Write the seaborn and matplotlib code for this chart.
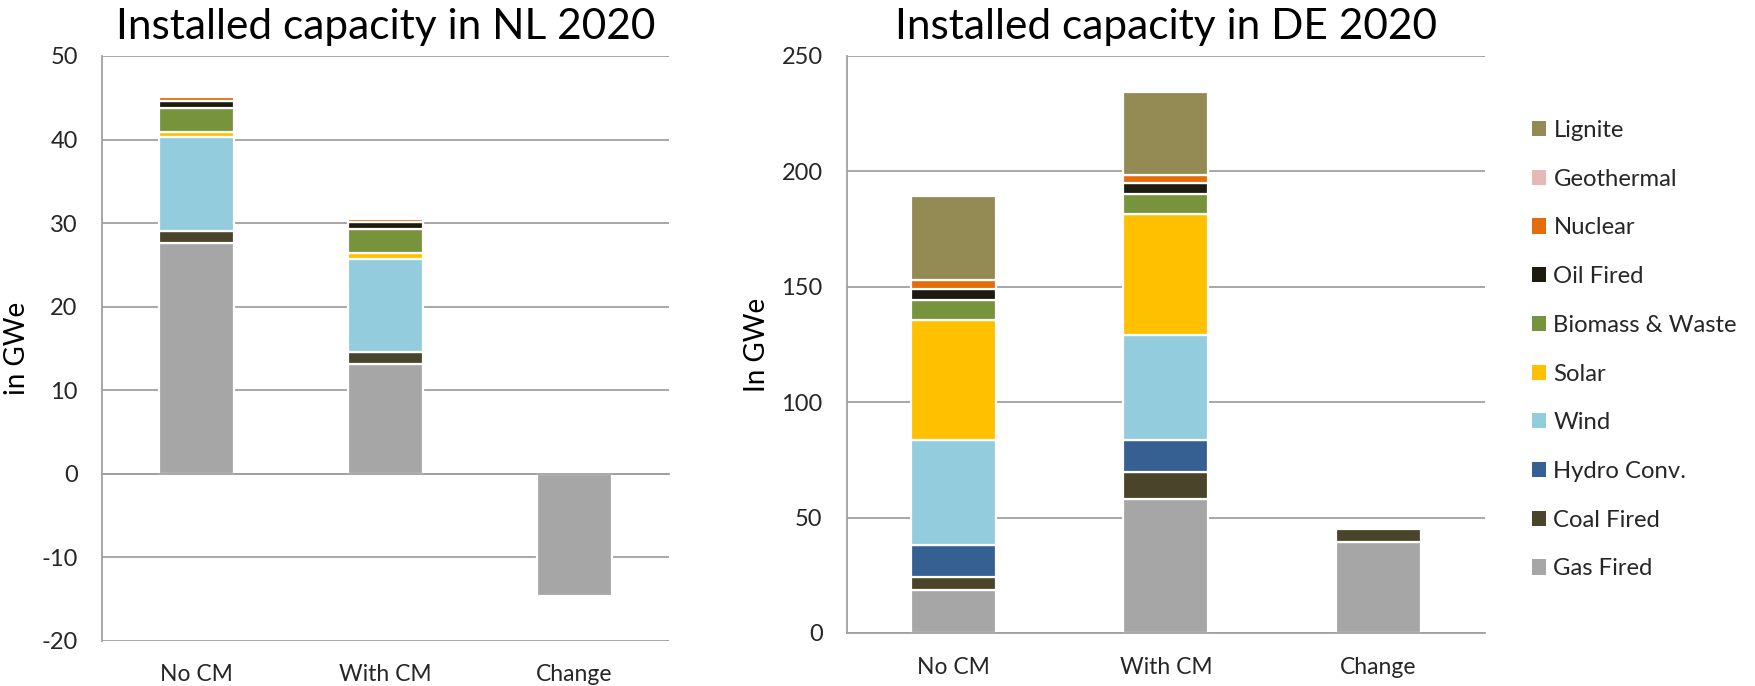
import numpy as np
import pandas as pd
import matplotlib
matplotlib.use("Agg")
import matplotlib.pyplot as plt
from matplotlib.patches import Patch
import seaborn as sns

# Scenarios on the x axis
categories = ["No CM", "With CM", "Change"]

# Technologies in stacking order (bottom to top)
technologies = ["Gas Fired", "Coal Fired", "Hydro Conv.", "Wind", "Solar",
                "Biomass & Waste", "Oil Fired", "Nuclear", "Geothermal", "Lignite"]
tech_colors = ["#A6A6A6", "#4A452A", "#376092", "#93CDDD", "#FFC000",
               "#77933C", "#1D1B10", "#E46C0A", "#E6B9B8", "#948A54"]

# Netherlands, installed capacity in GWe
nl_gas = [27.6, 13.2, -14.6]
nl_coal = [1.5, 1.4, 0.0]
nl_hydro = [0.0, 0.0, 0.0]
nl_wind = [11.2, 11.1, 0.0]
nl_solar = [0.6, 0.7, 0.0]
nl_biomass = [2.9, 2.9, 0.0]
nl_oil = [0.8, 0.8, 0.0]
nl_nuclear = [0.5, 0.4, 0.0]
nl_geothermal = [0.0, 0.0, 0.0]
nl_lignite = [0.0, 0.0, 0.0]

# Germany, installed capacity in GWe
de_gas = [18.6, 58.2, 39.4]
de_coal = [5.5, 11.5, 5.7]
de_hydro = [14.0, 13.9, 0.0]
de_wind = [45.5, 45.7, 0.0]
de_solar = [52.1, 52.1, 0.0]
de_biomass = [8.7, 8.9, 0.0]
de_oil = [4.8, 4.5, 0.0]
de_nuclear = [3.8, 3.6, 0.0]
de_geothermal = [0.0, 0.0, 0.0]
de_lignite = [36.2, 36.2, 0.0]

nl_values = dict(zip(technologies, [nl_gas, nl_coal, nl_hydro, nl_wind, nl_solar,
                                    nl_biomass, nl_oil, nl_nuclear, nl_geothermal, nl_lignite]))
de_values = dict(zip(technologies, [de_gas, de_coal, de_hydro, de_wind, de_solar,
                                    de_biomass, de_oil, de_nuclear, de_geothermal, de_lignite]))

sns.set_style("white")
plt.rcParams["font.family"] = ["Lato", "DejaVu Sans"]
plt.rcParams["axes.unicode_minus"] = False

GRID = "#A0A0A0"
TEXT = "#262626"


def draw_stack(ax, values):
    """Stacked bars: positive parts grow upward, negative parts downward."""
    pos_base = np.zeros(len(categories))
    neg_base = np.zeros(len(categories))
    cats = np.array(categories)
    for tech, color in zip(technologies, tech_colors):
        vals = np.asarray(values[tech], dtype=float)
        keep = vals != 0
        if keep.any():
            base = np.where(vals > 0, pos_base, neg_base)
            df = pd.DataFrame({"scenario": cats[keep], "GWe": vals[keep]})
            sns.barplot(data=df, x="scenario", y="GWe", order=categories,
                        bottom=base[keep], color=color, saturation=1,
                        width=0.4, edgecolor="white", linewidth=1.6,
                        errorbar=None, ax=ax)
        pos_base += np.where(vals > 0, vals, 0)
        neg_base += np.where(vals < 0, vals, 0)


def style_axes(ax, title, ylabel, ylim, yticks, label_offset):
    ax.set_ylim(*ylim)
    ax.set_yticks(yticks)
    ax.set_xlim(-0.5, len(categories) - 0.5)
    ax.set_axisbelow(True)
    ax.yaxis.grid(True, color=GRID, linewidth=1.3)
    ax.xaxis.grid(False)
    for side in ("top", "right"):
        ax.spines[side].set_visible(False)
    ax.spines["left"].set_color(GRID)
    ax.spines["left"].set_linewidth(1.3)
    ax.spines["bottom"].set_color(GRID)
    ax.spines["bottom"].set_linewidth(1.3)
    ax.spines["bottom"].set_position(("data", 0))

    ax.tick_params(axis="y", length=6.5, width=1.3, color=GRID, pad=11,
                   labelsize=17, labelcolor=TEXT)
    ax.set_xticks(range(len(categories)))
    ax.set_xticks(np.arange(-0.5, len(categories)), minor=True)
    ax.tick_params(axis="x", which="major", length=0, labelbottom=False)
    ax.tick_params(axis="x", which="minor", length=6.5, width=1.3, color=GRID,
                   direction="out")
    for i, cat in enumerate(categories):
        ax.annotate(cat, xy=(i, 0), xycoords=("data", "axes fraction"),
                    xytext=(0, label_offset), textcoords="offset points",
                    ha="center", va="center", fontsize=16.5, color=TEXT)

    ax.set_xlabel("")
    ax.set_ylabel(ylabel, fontsize=20, color="black", labelpad=8)
    ax.set_title(title, fontsize=30.5, color="black", pad=12)


fig = plt.figure(figsize=(17.56, 6.86), dpi=100)
ax_nl = fig.add_axes([0.0581, 0.0656, 0.3229, 0.8528])
ax_de = fig.add_axes([0.4823, 0.0773, 0.3633, 0.8411])

draw_stack(ax_nl, nl_values)
draw_stack(ax_de, de_values)

style_axes(ax_nl, "Installed capacity in NL 2020", "in GWe",
           (-20, 50), range(-20, 51, 10), -24)
style_axes(ax_de, "Installed capacity in DE 2020", "In GWe",
           (0, 250), range(0, 251, 50), -25)

handles = [Patch(facecolor=c, edgecolor="none", label=t)
           for t, c in zip(technologies, tech_colors)][::-1]
fig.legend(handles=handles, loc="upper left", bbox_to_anchor=(0.8724, 0.825),
           frameon=False, fontsize=17.2, handlelength=0.6, handleheight=0.6,
           handletextpad=0.3, labelspacing=1.16, borderpad=0, borderaxespad=0,
           labelcolor=TEXT)

fig.savefig("out.png", dpi=100)
